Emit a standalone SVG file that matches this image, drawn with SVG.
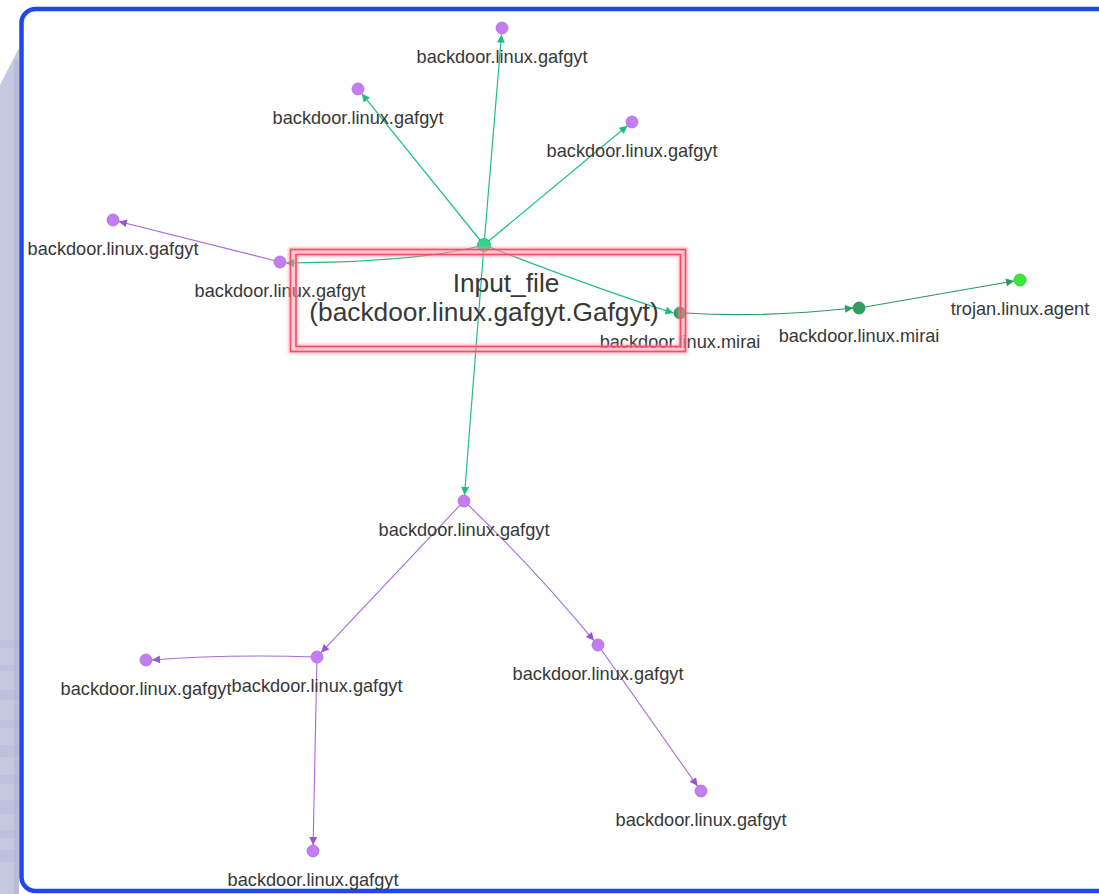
<svg xmlns="http://www.w3.org/2000/svg" width="1099" height="894" viewBox="0 0 1099 894">
<style>
.lbl{font-family:"Liberation Sans",Arial,sans-serif;font-size:18.2px;fill:#383838;text-anchor:middle}
.big{font-family:"Liberation Sans",Arial,sans-serif;font-size:26.3px;fill:#383838;text-anchor:middle}
.eg{fill:none;stroke:#1fbf80;stroke-width:1.2}
.ep{fill:none;stroke:#a86ad8;stroke-width:1.1}
.ed{fill:none;stroke:#2a9a60;stroke-width:1.1}
.np{fill:#c47df0;stroke:#b06ae0;stroke-width:0.8}
.nm{fill:#2e9e62;stroke:#268a55;stroke-width:0.8}
</style>
<defs>
<marker id="ag" viewBox="0 0 10 10" refX="10" refY="5" markerWidth="11" markerHeight="8" markerUnits="userSpaceOnUse" orient="auto"><path d="M0,0 L10,5 L0,10 Z" fill="#1fbf80"/></marker>
<marker id="ap" viewBox="0 0 10 10" refX="10" refY="5" markerWidth="11" markerHeight="8" markerUnits="userSpaceOnUse" orient="auto"><path d="M0,0 L10,5 L0,10 Z" fill="#9a55d0"/></marker>
<marker id="ad" viewBox="0 0 10 10" refX="10" refY="5" markerWidth="11" markerHeight="8" markerUnits="userSpaceOnUse" orient="auto"><path d="M0,0 L10,5 L0,10 Z" fill="#2a9a60"/></marker>
<filter id="glow" x="-10%" y="-20%" width="120%" height="140%"><feGaussianBlur stdDeviation="1.5"/></filter>
</defs>
<rect width="1099" height="894" fill="#ffffff"/>
<g id="frame">
<polygon points="0,85 19,48 19,894 0,894" fill="#c6c7e1"/>
<rect x="14" y="60" width="5" height="834" fill="#babcd8"/>
<g fill="#b0b2cf" opacity="0.3">
<rect x="0" y="640" width="19" height="8"/><rect x="0" y="665" width="19" height="6"/><rect x="0" y="690" width="19" height="10"/><rect x="0" y="720" width="19" height="8"/><rect x="0" y="745" width="19" height="12"/><rect x="0" y="775" width="19" height="9"/><rect x="0" y="800" width="19" height="14"/><rect x="0" y="830" width="19" height="8"/><rect x="0" y="850" width="19" height="12"/>
</g>
<rect x="21.5" y="9" width="1100" height="882" rx="14" fill="#ffffff" stroke="#1f47f0" stroke-width="4.5"/>
</g>
<g id="connectors">
<path class="eg" d="M484,245 L501.5,34.5" marker-end="url(#ag)"/>
<path class="eg" d="M484,245 L361.8,93.7" marker-end="url(#ag)"/>
<path class="eg" d="M484,245 L627.4,125.8" marker-end="url(#ag)"/>
<path class="eg" d="M484,245 L464.5,495" marker-end="url(#ag)"/>
<path class="eg" d="M484,245 Q420,262 286,263" marker-end="url(#ag)"/>
<path class="eg" d="M484,245 Q600,290 673.5,313" marker-end="url(#ag)"/>
<path class="ep" d="M274.2,260.5 L118.8,221.5" marker-end="url(#ap)"/>
<path class="ep" d="M464,501 L321.1,652.6" marker-end="url(#ap)"/>
<path class="ep" d="M464,501 Q536,570 593.9,640.6" marker-end="url(#ap)"/>
<path class="ep" d="M317,657 Q230,654 152,660" marker-end="url(#ap)"/>
<path class="ep" d="M317,657 L313.1,845" marker-end="url(#ap)"/>
<path class="ep" d="M598,645 L697.5,786.1" marker-end="url(#ap)"/>
<path class="ed" d="M686,313 Q760,318 853,308" marker-end="url(#ad)"/>
<path class="ed" d="M865,307 L1014.1,281" marker-end="url(#ad)"/>
</g>
<g id="n-top"><circle class="np" cx="502" cy="28" r="6"/><text class="lbl" x="502" y="63">backdoor.linux.gafgyt</text></g>
<g id="n-tl"><circle class="np" cx="358" cy="89" r="6"/><text class="lbl" x="358" y="124">backdoor.linux.gafgyt</text></g>
<g id="n-tr"><circle class="np" cx="632" cy="122" r="6"/><text class="lbl" x="632" y="157">backdoor.linux.gafgyt</text></g>
<g id="n-farleft"><circle class="np" cx="113" cy="220" r="6"/><text class="lbl" x="113" y="255">backdoor.linux.gafgyt</text></g>
<g id="n-left"><circle class="np" cx="280" cy="262" r="6"/><text class="lbl" x="280" y="297">backdoor.linux.gafgyt</text></g>
<g id="n-center"><circle cx="484" cy="245" r="6.5" fill="#2ed68a" stroke="#22b873" stroke-width="0.8"/></g>
<g id="n-mirai1"><circle class="nm" cx="680" cy="313" r="6"/><text class="lbl" x="680" y="348">backdoor.linux.mirai</text></g>
<g id="n-mirai2"><circle class="nm" cx="859" cy="308" r="6"/><text class="lbl" x="859" y="342">backdoor.linux.mirai</text></g>
<g id="n-trojan"><circle cx="1020" cy="280" r="6" fill="#3ae83a" stroke="#2cc02c" stroke-width="0.8"/><text class="lbl" x="1020" y="315">trojan.linux.agent</text></g>
<g id="n-mid"><circle class="np" cx="464" cy="501" r="6"/><text class="lbl" x="464" y="536">backdoor.linux.gafgyt</text></g>
<g id="n-b1"><circle class="np" cx="317" cy="657" r="6"/><text class="lbl" x="317" y="692">backdoor.linux.gafgyt</text></g>
<g id="n-b2"><circle class="np" cx="146" cy="660" r="6"/><text class="lbl" x="146" y="695">backdoor.linux.gafgyt</text></g>
<g id="n-b3"><circle class="np" cx="598" cy="645" r="6"/><text class="lbl" x="598" y="680">backdoor.linux.gafgyt</text></g>
<g id="n-b4"><circle class="np" cx="701" cy="791" r="6"/><text class="lbl" x="701" y="826">backdoor.linux.gafgyt</text></g>
<g id="n-b5"><circle class="np" cx="313" cy="851" r="6"/><text class="lbl" x="313" y="886">backdoor.linux.gafgyt</text></g>
<g id="input-file">
<g fill="none" stroke="#ff8ea0" stroke-width="4" opacity="0.7" filter="url(#glow)">
<rect x="290.5" y="249.5" width="395" height="102"/>
<rect x="296" y="254.5" width="384.5" height="92"/>
</g>
<g fill="none" stroke="#f0506c" stroke-width="1.6">
<rect x="290.5" y="249.5" width="395" height="102"/>
<rect x="296" y="254.5" width="384.5" height="92"/>
</g>
<text class="big" x="506" y="292">Input_file</text>
<text class="big" x="484" y="321">(backdoor.linux.gafgyt.Gafgyt)</text>
</g>
</svg>
